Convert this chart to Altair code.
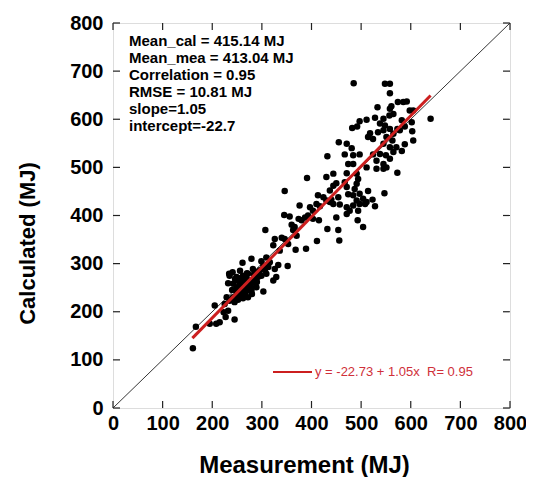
import altair as alt
import pandas as pd

measurement = [
    485, 548, 558, 558, 574, 585, 592, 561, 533, 558, 598, 605, 640, 511, 497, 528, 545, 557, 565,
    482, 492, 538, 548, 582, 588, 602, 518, 534, 545, 558, 573, 578, 603, 514, 524, 551, 565, 563, 605,
    455, 471, 481, 545, 558, 571, 588, 467, 484, 497, 524, 538, 550, 565, 582, 432, 474, 484, 531, 545, 558,
    511, 531, 545, 551, 573, 471, 491, 494, 491, 430, 444, 467, 391, 346, 345, 444, 450, 437, 471, 487,
    497, 514, 547, 413, 424, 430, 437, 440, 454, 474, 484, 491, 504, 511, 523, 528, 376, 397, 403, 410,
    417, 444, 457, 471, 484, 497, 508, 356, 374, 387, 393, 403, 415, 450, 471, 477, 494, 360, 366, 380,
    493, 504, 307, 340, 363, 370, 432, 454, 456, 411, 326, 346, 353, 323, 336, 368, 389, 309, 316, 299,
    303, 279, 261, 241, 235, 249, 306, 313, 323, 329, 352, 333, 326, 282, 289, 296, 272, 262, 269, 255,
    276, 286, 292, 299, 309, 242, 249, 259, 269, 279, 266, 255, 249, 242, 229, 235, 245, 252, 272, 280,
    303, 289, 232, 234, 205, 225, 232, 227, 223, 245, 215, 208, 195, 167, 161,
    250, 262, 258, 265, 252, 262, 275, 270, 285, 240, 256, 238, 262, 268, 278, 246, 290, 258, 272, 284,
]
calculated = [
    675, 674, 674, 654, 636, 636, 637, 627, 625, 622, 618, 618, 601, 599, 596, 603, 601, 608, 611,
    582, 585, 591, 587, 598, 585, 594, 571, 573, 577, 580, 580, 577, 575, 563, 559, 563, 570, 556, 556,
    552, 549, 540, 549, 542, 542, 548, 527, 525, 527, 527, 528, 525, 532, 534, 523, 507, 507, 514, 507, 518,
    500, 497, 497, 500, 489, 488, 487, 476, 466, 480, 487, 469, 478, 451, 401, 462, 467, 452, 459, 455,
    445, 451, 446, 442, 438, 431, 428, 433, 438, 444, 442, 431, 435, 428, 433, 419, 421, 417, 410, 424,
    419, 424, 423, 417, 421, 424, 424, 398, 393, 396, 400, 393, 390, 396, 403, 410, 410, 381, 376, 390,
    390, 376, 370, 354, 370, 358, 372, 370, 348, 347, 351, 351, 341, 338, 327, 329, 331, 313, 303, 305,
    296, 310, 302, 282, 275, 272, 287, 293, 265, 272, 295, 297, 289, 289, 282, 286, 279, 275, 268, 261,
    258, 261, 272, 275, 279, 258, 251, 251, 247, 244, 237, 234, 237, 230, 230, 223, 220, 225, 230, 237,
    242, 251, 259, 279, 213, 216, 202, 189, 199, 184, 178, 175, 175, 169, 124,
    265, 262, 270, 255, 246, 240, 265, 280, 268, 245, 285, 225, 228, 255, 252, 268, 262, 242, 244, 278,
]

axis_ticks = [0, 100, 200, 300, 400, 500, 600, 700, 800]
diag_vals = [0, 800]
reg_x = [160, 640]
reg_y = [145.3, 649.3]

stats_lines = [
    "Mean_cal = 415.14 MJ",
    "Mean_mea = 413.04 MJ",
    "Correlation = 0.95",
    "RMSE = 10.81 MJ",
    "slope=1.05",
    "intercept=-22.7",
]
legend_label = "y = -22.73 + 1.05x\u00a0\u00a0R= 0.95"

W, H = 397, 385
FONT = "Liberation Sans"
RED = "#cc1f1f"

xs = alt.Scale(domain=[0, 800], nice=False, zero=False)
ys = alt.Scale(domain=[0, 800], nice=False, zero=False)

x_axis = alt.Axis(
    values=axis_ticks, ticks=False, tickSize=0, domain=False, grid=False,
    labelFont=FONT, labelFontSize=20, labelFontWeight="bold", labelColor="black",
    labelPadding=5, labelFlush=False,
    title="Measurement (MJ)", titleFont=FONT, titleFontSize=24, titleFontWeight="bold",
    titleColor="black", titleX=191, titleY=57, titleAlign="center", titleBaseline="middle",
)
y_axis = alt.Axis(
    values=axis_ticks, ticks=False, tickSize=0, domain=False, grid=False,
    labelFont=FONT, labelFontSize=20, labelFontWeight="bold", labelColor="black",
    labelPadding=10, labelFlush=False,
    title="Calculated (MJ)", titleFont=FONT, titleFontSize=22, titleFontWeight="bold",
    titleColor="black", titleX=-86, titleY=220, titleAlign="center", titleBaseline="middle",
    titleAngle=270,
)

pts_df = pd.DataFrame({"meas": measurement, "calc": calculated})
diag_df = pd.DataFrame({"x": diag_vals, "y": diag_vals})
reg_df = pd.DataFrame({"x": reg_x, "y": reg_y})
tick_df = pd.DataFrame({"t": axis_ticks})

diag = alt.Chart(diag_df).mark_line(color="black", strokeWidth=0.8).encode(
    x=alt.X("x:Q", scale=xs, axis=x_axis),
    y=alt.Y("y:Q", scale=ys, axis=y_axis),
)

points = alt.Chart(pts_df).mark_circle(size=42, color="black", opacity=1).encode(
    x=alt.X("meas:Q", scale=xs),
    y=alt.Y("calc:Q", scale=ys),
)

reg = alt.Chart(reg_df).mark_line(color=RED, strokeWidth=3).encode(
    x=alt.X("x:Q", scale=xs),
    y=alt.Y("y:Q", scale=ys),
)

tick_len = 7
bottom_ticks = alt.Chart(tick_df).mark_rule(color="#222", strokeWidth=1.2).encode(
    x=alt.X("t:Q", scale=xs), y=alt.value(H), y2=alt.value(H - tick_len))
top_ticks = alt.Chart(tick_df).mark_rule(color="#222", strokeWidth=1.2).encode(
    x=alt.X("t:Q", scale=xs), y=alt.value(0), y2=alt.value(tick_len))
left_ticks = alt.Chart(tick_df).mark_rule(color="#222", strokeWidth=1.2).encode(
    y=alt.Y("t:Q", scale=ys), x=alt.value(0), x2=alt.value(tick_len))
right_ticks = alt.Chart(tick_df).mark_rule(color="#222", strokeWidth=1.2).encode(
    y=alt.Y("t:Q", scale=ys), x=alt.value(W), x2=alt.value(W - tick_len))

stats = alt.Chart(pd.DataFrame({"k": [0]})).mark_text(
    text=stats_lines, align="left", baseline="top", font=FONT, fontSize=15,
    fontWeight="bold", color="black", lineHeight=17,
).encode(x=alt.value(16), y=alt.value(11))

legend_line = alt.Chart(pd.DataFrame({"k": [0]})).mark_rule(color=RED, strokeWidth=2).encode(
    x=alt.value(160), x2=alt.value(199), y=alt.value(349))
legend_text = alt.Chart(pd.DataFrame({"k": [0]})).mark_text(
    text=legend_label, align="left", baseline="middle", font=FONT, fontSize=13,
    color="#d0303a",
).encode(x=alt.value(202), y=alt.value(349))

chart = alt.layer(
    diag, points, reg, bottom_ticks, top_ticks, left_ticks, right_ticks,
    stats, legend_line, legend_text,
).properties(
    width=W, height=H,
    autosize=alt.AutoSizeParams(type="none"),
    padding={"left": 105, "top": 15, "right": 16, "bottom": 69},
).configure_view(
    stroke="#222", strokeWidth=1.5,
).configure(background="white")

chart.save("out.html", embed_options={"renderer": "svg", "actions": False})
